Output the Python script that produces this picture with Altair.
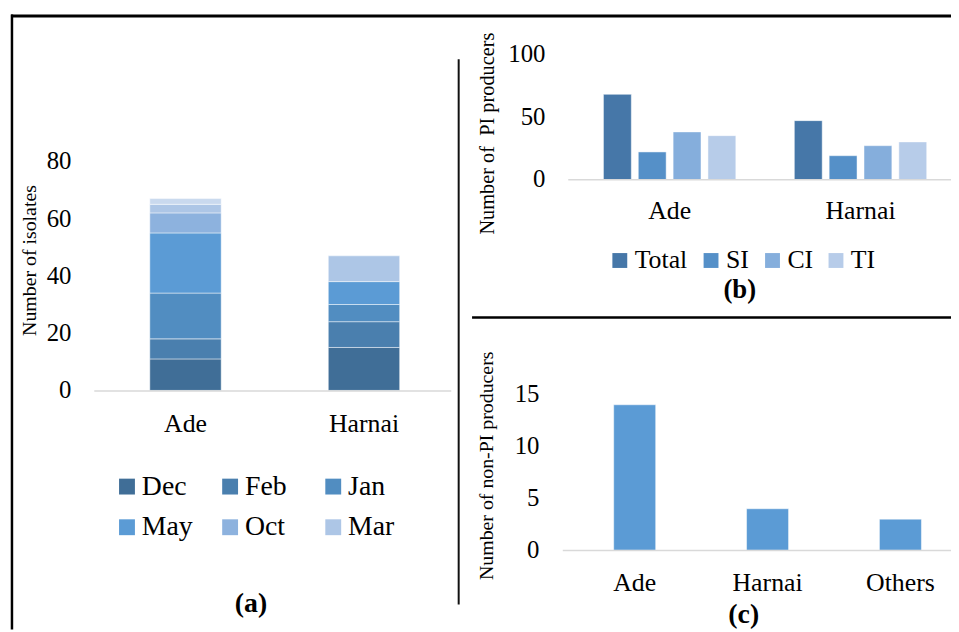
import altair as alt
import pandas as pd

FONT = "Liberation Serif, Times New Roman, serif"

# ---------------- Panel (a): stacked isolates by month ----------------
sites_a = ["Ade", "Harnai"]
months = ["Dec", "Feb", "Jan", "May", "Oct", "Mar", "Other"]
legend_months = ["Dec", "Feb", "Jan", "May", "Oct", "Mar"]
ade_counts = [11, 7, 16, 21, 7, 3, 2]
harnai_counts = [15, 9, 6, 8, 0, 9, 0]
month_colors = ["#406e97", "#4a7fae", "#518dc1", "#5b9bd5", "#8db2de", "#adc6e6", "#c9d9ee"]
ticks_a = [0, 20, 40, 60, 80]

# ---------------- Panel (b): PI producers ----------------
sites_b = ["Ade", "Harnai"]
pi_types = ["Total", "SI", "CI", "TI"]
pi_ade = [68, 22, 38, 35]
pi_harnai = [47, 19, 27, 30]
pi_colors = ["#4677a8", "#5590c8", "#85aedc", "#b7cce9"]
ticks_b = [0, 50, 100]

# ---------------- Panel (c): non-PI producers ----------------
sites_c = ["Ade", "Harnai", "Others"]
non_pi = [14, 4, 3]
bar_c_color = "#5b9bd5"
ticks_c = [0, 5, 10, 15]

# ---------------- data frames ----------------
rows_a = []
for site, counts in zip(sites_a, [ade_counts, harnai_counts]):
    for i, (m, c) in enumerate(zip(months, counts)):
        if c > 0:
            rows_a.append({"site": site, "month": m, "count": c, "idx": i})
df_a = pd.DataFrame(rows_a)

rows_b = []
for site, vals in zip(sites_b, [pi_ade, pi_harnai]):
    for t, v in zip(pi_types, vals):
        rows_b.append({"site": site, "type": t, "v": v})
df_b = pd.DataFrame(rows_b)

df_c = pd.DataFrame({"site": sites_c, "v": non_pi})
one = pd.DataFrame({"k": [0]})

# ---------------- scales (pixel ranges inside the single canvas) ----------------
xa = alt.Scale(domain=sites_a, range=[89, 449], paddingInner=0.6, paddingOuter=0.3)
ya = alt.Scale(domain=[0, 80], range=[383, 152], nice=False)
xb = alt.Scale(domain=sites_b, range=[571, 956], paddingInner=0.27, paddingOuter=0.135)
yb = alt.Scale(domain=[0, 100], range=[170.3, 44], nice=False)
xc = alt.Scale(domain=sites_c, range=[565, 967], paddingInner=0.684, paddingOuter=0.342)
yc = alt.Scale(domain=[0, 15], range=[544.3, 387], nice=False)

layers = []

# ---- panel (a)
layers.append(
    alt.Chart(df_a).mark_bar(stroke="white", strokeWidth=0.8, strokeOpacity=0.6).encode(
        x=alt.X("site:N", scale=xa, axis=None),
        y=alt.Y("sum(count):Q", stack="zero", scale=ya, axis=None),
        color=alt.Color(
            "month:N",
            scale=alt.Scale(domain=months, range=month_colors),
            legend=alt.Legend(
                orient="none", legendX=106, legendY=466, direction="horizontal",
                columns=3, title=None, values=legend_months, symbolType="square",
                symbolSize=256, symbolStrokeWidth=0, symbolOpacity=1,
                labelFont=FONT, labelFontSize=28, labelColor="black", labelOffset=1,
                columnPadding=23, rowPadding=13, gridAlign="all", padding=0, labelLimit=0,
            ),
        ),
        order=alt.Order("idx:Q", sort="ascending"),
    )
)
layers.append(
    alt.Chart(one).mark_rule(color="#d9d9d9", strokeWidth=1.5).encode(
        x=alt.value(87), x2=alt.value(447), y=alt.value(383.5)
    )
)
layers.append(
    alt.Chart(pd.DataFrame({"v": ticks_a})).mark_text(
        align="right", baseline="middle", font=FONT, fontSize=25, color="black"
    ).encode(y=alt.Y("v:Q", scale=ya, axis=None), x=alt.value(64), text="v:Q")
)
layers.append(
    alt.Chart(pd.DataFrame({"site": sites_a})).mark_text(
        baseline="alphabetic", font=FONT, fontSize=26, color="black"
    ).encode(x=alt.X("site:N", scale=xa, axis=None), y=alt.value(425), text="site:N")
)
layers.append(
    alt.Chart(one).mark_text(angle=270, baseline="middle", font=FONT, fontSize=20, color="black").encode(
        x=alt.value(22.5), y=alt.value(252), text=alt.value("Number of isolates")
    )
)
layers.append(
    alt.Chart(one).mark_text(baseline="middle", font=FONT, fontSize=28, fontWeight="bold", color="black").encode(
        x=alt.value(245), y=alt.value(598), text=alt.value("(a)")
    )
)

# ---- panel (b)
layers.append(
    alt.Chart(df_b).mark_bar(stroke="white", strokeWidth=0.8, strokeOpacity=0.6).encode(
        x=alt.X("site:N", scale=xb, axis=None),
        xOffset=alt.XOffset("type:N", scale=alt.Scale(domain=pi_types, paddingInner=0.2, paddingOuter=0.1)),
        y=alt.Y("v:Q", scale=yb, axis=None),
        color=alt.Color(
            "type:N",
            scale=alt.Scale(domain=pi_types, range=pi_colors),
            legend=alt.Legend(
                orient="none", legendX=604, legendY=239, direction="horizontal",
                title=None, symbolType="square", symbolSize=225, symbolStrokeWidth=0,
                symbolOpacity=1, labelFont=FONT, labelFontSize=26, labelColor="black",
                labelOffset=2, columnPadding=10, padding=0, labelLimit=0,
            ),
        ),
    )
)
layers.append(
    alt.Chart(one).mark_rule(color="#d9d9d9", strokeWidth=1.5).encode(
        x=alt.value(565), x2=alt.value(951), y=alt.value(170.5)
    )
)
layers.append(
    alt.Chart(pd.DataFrame({"v": ticks_b})).mark_text(
        align="right", baseline="middle", font=FONT, fontSize=25, color="black"
    ).encode(y=alt.Y("v:Q", scale=yb, axis=None), x=alt.value(542), text="v:Q")
)
layers.append(
    alt.Chart(pd.DataFrame({"site": sites_b})).mark_text(
        baseline="alphabetic", font=FONT, fontSize=26, color="black"
    ).encode(x=alt.X("site:N", scale=xb, axis=None), y=alt.value(210), text="site:N")
)
layers.append(
    alt.Chart(one).mark_text(angle=270, baseline="middle", font=FONT, fontSize=20.5, color="black").encode(
        x=alt.value(484), y=alt.value(124), text=alt.value("Number of \u00a0PI producers")
    )
)
layers.append(
    alt.Chart(one).mark_text(baseline="middle", font=FONT, fontSize=27, fontWeight="bold", color="black").encode(
        x=alt.value(738), y=alt.value(282), text=alt.value("(b)")
    )
)

# ---- panel (c)
layers.append(
    alt.Chart(df_c).mark_bar(color=bar_c_color, stroke="white", strokeWidth=0.8, strokeOpacity=0.6).encode(
        x=alt.X("site:N", scale=xc, axis=None),
        y=alt.Y("v:Q", scale=yc, axis=None),
    )
)
layers.append(
    alt.Chart(one).mark_rule(color="#d9d9d9", strokeWidth=1.5).encode(
        x=alt.value(559.5), x2=alt.value(951), y=alt.value(544.5)
    )
)
layers.append(
    alt.Chart(pd.DataFrame({"v": ticks_c})).mark_text(
        align="right", baseline="middle", font=FONT, fontSize=25, color="black"
    ).encode(y=alt.Y("v:Q", scale=yc, axis=None), x=alt.value(536), text="v:Q")
)
layers.append(
    alt.Chart(pd.DataFrame({"site": sites_c})).mark_text(
        baseline="alphabetic", font=FONT, fontSize=26, color="black"
    ).encode(x=alt.X("site:N", scale=xc, axis=None), y=alt.value(585.5), text="site:N")
)
layers.append(
    alt.Chart(one).mark_text(angle=270, baseline="middle", font=FONT, fontSize=20, color="black").encode(
        x=alt.value(483), y=alt.value(459), text=alt.value("Number of non-PI producers")
    )
)
layers.append(
    alt.Chart(one).mark_text(baseline="middle", font=FONT, fontSize=28, fontWeight="bold", color="black").encode(
        x=alt.value(742), y=alt.value(610), text=alt.value("(c)")
    )
)

# ---- frame and dividers
layers.append(alt.Chart(one).mark_rule(color="black", strokeWidth=3).encode(
    x=alt.value(3), x2=alt.value(951), y=alt.value(5.5)))
layers.append(alt.Chart(one).mark_rule(color="black", strokeWidth=2.5).encode(
    x=alt.value(4), y=alt.value(4), y2=alt.value(624)))
layers.append(alt.Chart(one).mark_rule(color="#111111", strokeWidth=2).encode(
    x=alt.value(454.5), y=alt.value(49), y2=alt.value(599)))
layers.append(alt.Chart(one).mark_rule(color="black", strokeWidth=2.5).encode(
    x=alt.value(468), x2=alt.value(951), y=alt.value(309.5)))

chart = (
    alt.layer(*layers)
    .resolve_scale(x="independent", y="independent", color="independent")
    .properties(width=951, height=624, autosize=alt.AutoSizeParams(type="none"), padding=0)
    .configure_view(stroke=None)
)

chart.save("out.html", embed_options={"renderer": "svg", "actions": False})
